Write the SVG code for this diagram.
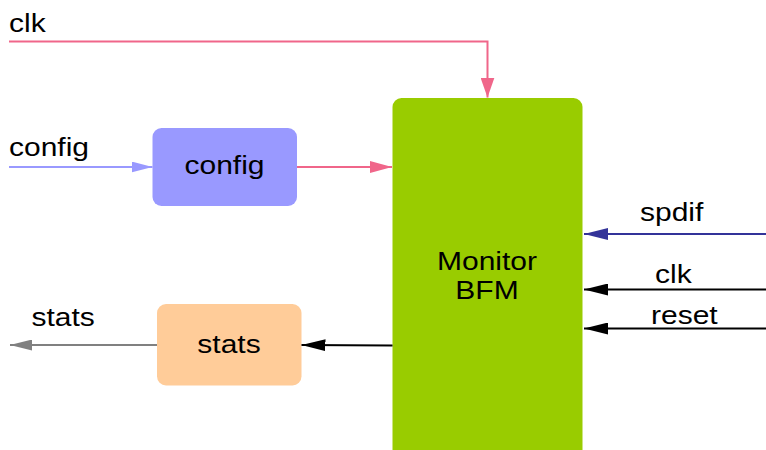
<svg xmlns="http://www.w3.org/2000/svg" width="766" height="450" viewBox="0 0 766 450">
<style>
  text { font-family: "Liberation Sans", Arial, sans-serif; font-size: 25px; fill: #000; }
  .mid { text-anchor: middle; }
  .wire { fill: none; stroke-width: 2; }
  .pink { stroke: #f0668a; }
  .lav { stroke: #9999ff; }
  .blue { stroke: #333399; }
  .blk { stroke: #000; }
  .grey { stroke: #808080; }
</style>
<defs>
  <marker id="aPink" markerUnits="userSpaceOnUse" markerWidth="22" markerHeight="12" refX="22" refY="6" orient="auto"><path d="M0,0 L22,6 L0,12 Z" fill="#f0668a"/></marker>
  <marker id="aPinkV" markerUnits="userSpaceOnUse" markerWidth="20" markerHeight="14" refX="20" refY="7" orient="auto"><path d="M0,0 L20,7 L0,14 Z" fill="#f0668a"/></marker>
  <marker id="aLav" markerUnits="userSpaceOnUse" markerWidth="21" markerHeight="11" refX="21" refY="5.5" orient="auto"><path d="M0,0 L21,5.5 L0,11 Z" fill="#9999ff"/></marker>
  <marker id="aBlue" markerUnits="userSpaceOnUse" markerWidth="24" markerHeight="12" refX="24" refY="6" orient="auto"><path d="M0,0 L24,6 L0,12 Z" fill="#333399"/></marker>
  <marker id="aBlk" markerUnits="userSpaceOnUse" markerWidth="24" markerHeight="12" refX="24" refY="6" orient="auto"><path d="M0,0 L24,6 L0,12 Z" fill="#000"/></marker>
  <marker id="aGrey" markerUnits="userSpaceOnUse" markerWidth="22" markerHeight="11" refX="22" refY="5.5" orient="auto"><path d="M0,0 L22,5.5 L0,11 Z" fill="#808080"/></marker>
</defs>

<g id="monitor">
  <rect x="392.5" y="98" width="190" height="370" rx="9" fill="#99cc00"/>
  <text class="mid" transform="matrix(1.2 0 0 1 487 269.5)">Monitor</text>
  <text class="mid" transform="matrix(1.2 0 0 1 487 299)">BFM</text>
</g>
<g id="config">
  <rect x="152.5" y="128" width="144.5" height="78" rx="9" fill="#9999ff"/>
  <text class="mid" transform="matrix(1.2 0 0 1 224.5 173.5)">config</text>
</g>
<g id="stats">
  <rect x="157" y="304" width="144.5" height="81.5" rx="9" fill="#ffcc99"/>
  <text class="mid" transform="matrix(1.2 0 0 1 229 352.5)">stats</text>
</g>

<g id="connectors">
  <path class="wire pink" d="M9,41.5 H487.5 V97.5" marker-end="url(#aPinkV)"/>
  <path class="wire lav" d="M9,167 H152.5" marker-end="url(#aLav)"/>
  <path class="wire pink" d="M297,167 H392" marker-end="url(#aPink)"/>
  <path class="wire blue" d="M766,234 H584" marker-end="url(#aBlue)"/>
  <path class="wire blk" d="M766,289.5 H584" marker-end="url(#aBlk)"/>
  <path class="wire blk" d="M766,328.5 H584" marker-end="url(#aBlk)"/>
  <path class="wire blk" d="M392.5,345.5 L301.5,345" marker-end="url(#aBlk)"/>
  <path class="wire grey" d="M157,345 H10" marker-end="url(#aGrey)"/>
</g>

<g id="labels">
  <text transform="matrix(1.2 0 0 1 9 32)">clk</text>
  <text transform="matrix(1.2 0 0 1 9 156)">config</text>
  <text transform="matrix(1.2 0 0 1 31.5 325.5)">stats</text>
  <text transform="matrix(1.2 0 0 1 640 220.5)">spdif</text>
  <text transform="matrix(1.2 0 0 1 655 283)">clk</text>
  <text transform="matrix(1.2 0 0 1 651 324)">reset</text>
</g>
</svg>
